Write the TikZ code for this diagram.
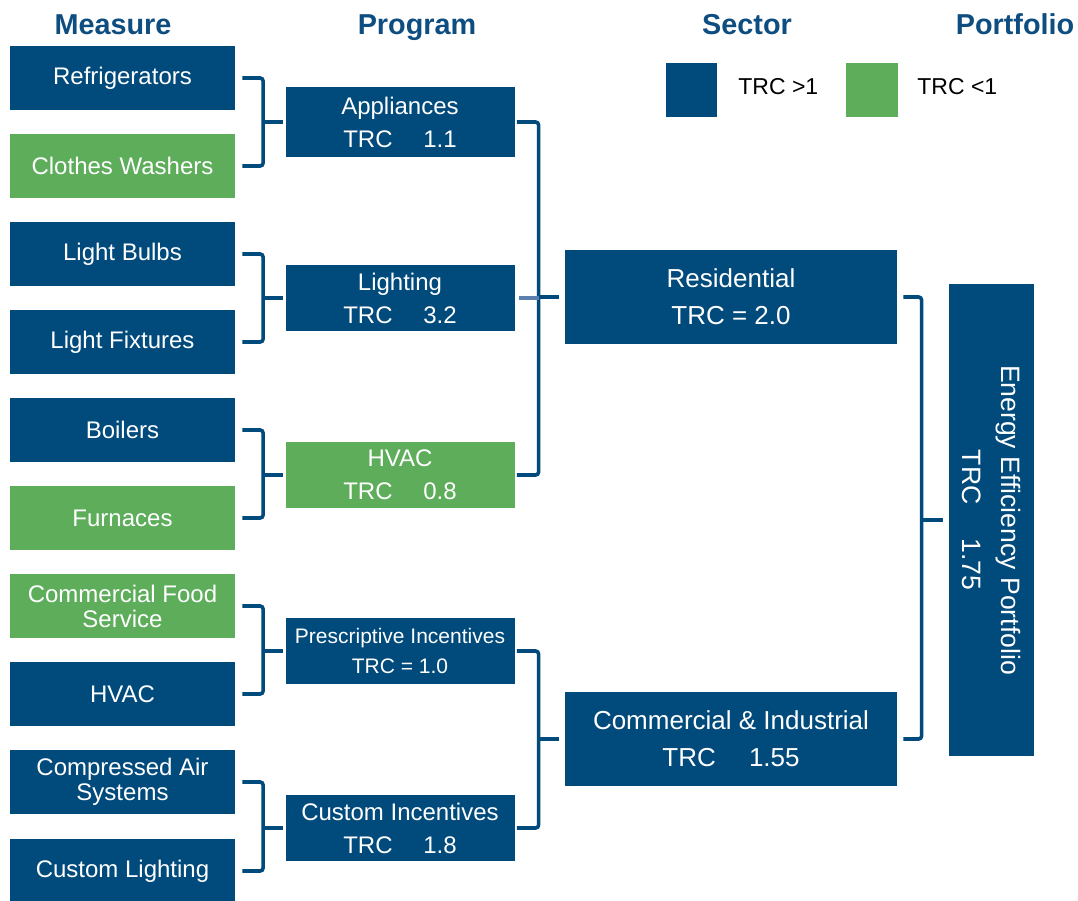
\documentclass[tikz,border=0pt]{standalone}
\usepackage{fontspec}
\setmainfont{Liberation Sans}
\usepackage{tikz}
\usetikzlibrary{calc,positioning}
\definecolor{trcblue}{HTML}{004A7C}
\definecolor{trcgreen}{HTML}{5DAD5B}
\definecolor{headblue}{HTML}{0E4D80}
\definecolor{armblue}{HTML}{5B80B0}

\begin{document}
\begin{tikzpicture}[x=0.5pt, y=-0.5pt,
  measure/.style={text=white, align=center, minimum width=112.5pt, minimum height=32pt, inner sep=0pt, font=\fontsize{12}{12.5}\selectfont},
  program/.style={text=white, align=center, minimum width=114.5pt, minimum height=33pt, inner sep=0pt, font=\fontsize{12}{16.5}\selectfont},
  sector/.style={fill=trcblue, text=white, align=center, minimum width=166pt, minimum height=47pt, inner sep=0pt, font=\fontsize{13}{18.5}\selectfont},
  head/.style={text=headblue, anchor=base, font=\fontsize{14.4}{16}\selectfont\bfseries},
  legtext/.style={anchor=west, inner sep=0pt, font=\fontsize{11.5}{13}\selectfont},
  bracket/.style={draw=trcblue, line width=1.8pt, rounded corners=1.5pt}]
\useasboundingbox (0,0) rectangle (1078,901);
% column headings
\node[head] (hm) at (113,34)  {Measure};
\node[head] (hp) at (417,34)  {Program};
\node[head] (hs) at (747,34)  {Sector};
\node[head] (hf) at (1015,34) {Portfolio};
% legend
\node[fill=trcblue, minimum width=25.5pt, minimum height=27pt, inner sep=0pt]  (lb) at (691.5,90) {};
\node[legtext] (lbt) at (738,87) {TRC >1};
\node[fill=trcgreen, minimum width=26pt, minimum height=27pt, inner sep=0pt] (lg) at (872,90) {};
\node[legtext] (lgt) at (917,87) {TRC <1};
% measures
\node[measure, fill=trcblue]  (refr) at (122.5,78)  {Refrigerators};
\node[measure, fill=trcgreen] (wash) at (122.5,166) {Clothes Washers};
\node[measure, fill=trcblue]  (bulb) at (122.5,254) {Light Bulbs};
\node[measure, fill=trcblue]  (fixt) at (122.5,342) {Light Fixtures};
\node[measure, fill=trcblue]  (boil) at (122.5,430) {Boilers};
\node[measure, fill=trcgreen] (furn) at (122.5,518) {Furnaces};
\node[measure, fill=trcgreen] (food) at (122.5,606) {Commercial Food\\Service};
\node[measure, fill=trcblue]  (hvac) at (122.5,694) {HVAC};
\node[measure, fill=trcblue]  (cair) at (122.5,782) {Compressed Air\\Systems};
\node[measure, fill=trcblue]  (clig) at (122.5,871) {Custom Lighting};
% programs
\node[program, fill=trcblue, minimum height=35pt] (appl) at (400,122) {Appliances\\TRC \quad 1.1};
\node[program, fill=trcblue]  (ligh) at (400,298) {Lighting\\TRC \quad 3.2};
\node[program, fill=trcgreen] (hvap) at (400,475) {HVAC\\TRC \quad 0.8};
\node[program, fill=trcblue, font=\fontsize{10.5}{15}\selectfont] (pres) at (400,651) {Prescriptive Incentives\\TRC = 1.0};
\node[program, fill=trcblue]  (cust) at (400,828) {Custom Incentives\\TRC \quad 1.8};
% sectors
\node[sector] (resi) at (731,297) {Residential\\TRC = 2.0};
\node[sector] (comm) at (731,739) {Commercial \& Industrial\\TRC \quad 1.55};
% portfolio
\node[fill=trcblue, text=white, rotate=-90, align=center, minimum width=236pt, minimum height=42.5pt, inner sep=0pt, font=\fontsize{13.3}{19.5}\selectfont] (port) at (991.5,520) {Energy Efficiency Portfolio\\TRC \quad 1.75};
% measure -> program brackets
\foreach \a/\b/\p in {refr/wash/appl, bulb/fixt/ligh, boil/furn/hvap, food/hvac/pres, cair/clig/cust} {
  \draw[bracket] ([xshift=3.5pt]\a.east) -| ([xshift=-11pt]\p.west) |- ([xshift=3.5pt]\b.east);
  \draw[bracket] ([xshift=-11pt]\p.west) -- ([xshift=-1pt]\p.west);
}
% program -> sector brackets
\draw[bracket] ([xshift=1pt]appl.east) -| ([xshift=-13pt]resi.west) |- ([xshift=1pt]hvap.east);
\draw[bracket] ([xshift=-13pt]resi.west) -- ([xshift=-3pt]resi.west);
\draw[bracket, draw=armblue] ([xshift=2pt]ligh.east) -- ([xshift=-13pt]resi.west |- ligh.east);
\draw[bracket] ([xshift=1pt]pres.east) -| ([xshift=-13pt]comm.west) |- ([xshift=1pt]cust.east);
\draw[bracket] ([xshift=-13pt]comm.west) -- ([xshift=-3pt]comm.west);
% sector -> portfolio bracket
\draw[bracket] ([xshift=3pt]resi.east) -| ($(port.south)+(-13.5pt,0)$) |- ([xshift=3pt]comm.east);
\draw[bracket] ($(port.south)+(-13.5pt,0)$) -- ($(port.south)+(-3pt,0)$);
\end{tikzpicture}
\end{document}
